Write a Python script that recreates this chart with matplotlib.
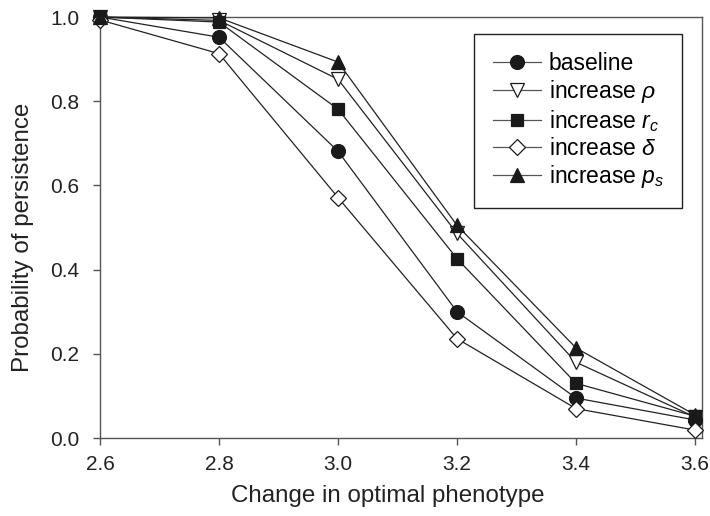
import matplotlib
matplotlib.use("Agg")
import matplotlib.pyplot as plt

plt.rcParams['font.family'] = ['Liberation Sans', 'DejaVu Sans']
plt.rcParams['mathtext.fontset'] = 'custom'
plt.rcParams['mathtext.rm'] = 'Liberation Sans'
plt.rcParams['mathtext.it'] = 'Liberation Sans:italic'

x = [2.6, 2.8, 3.0, 3.2, 3.4, 3.6]
baseline = [1.0, 0.952, 0.681, 0.300, 0.095, 0.043]
inc_rho = [1.0, 0.992, 0.852, 0.486, 0.180, 0.050]
inc_rc = [1.0, 0.988, 0.781, 0.426, 0.130, 0.052]
inc_delta = [0.993, 0.913, 0.571, 0.236, 0.070, 0.019]
inc_ps = [1.0, 0.998, 0.893, 0.505, 0.214, 0.055]

labels = ['baseline', r'increase $\rho$', r'increase $r_c$', r'increase $\delta$', r'increase $p_s$']
series = [baseline, inc_rho, inc_rc, inc_delta, inc_ps]
markers = ['o', 'v', 's', 'D', '^']
faces = ['#1a1a1a', 'white', '#1a1a1a', 'white', '#1a1a1a']
sizes = [10, 10, 9, 8.5, 10]

fig = plt.figure(figsize=(7.1, 5.16), dpi=100)
ax = fig.add_axes([0.141, 0.151, 0.848, 0.816])

for y, lab, m, fc, ms in zip(series, labels, markers, faces, sizes):
    ax.plot(x, y, color='#222222', lw=0.9, marker=m, markersize=ms,
            markerfacecolor=fc, markeredgecolor='#1a1a1a', markeredgewidth=0.9,
            label=lab, clip_on=False, zorder=3)

ax.set_xlim(2.6, 3.612)
ax.set_ylim(0.0, 1.0)
ax.set_xticks([2.6, 2.8, 3.0, 3.2, 3.4, 3.6])
ax.set_xticklabels(['2.6', '2.8', '3.0', '3.2', '3.4', '3.6'])
ax.set_yticks([0.0, 0.2, 0.4, 0.6, 0.8, 1.0])
ax.set_yticklabels(['0.0', '0.2', '0.4', '0.6', '0.8', '1.0'])
ax.tick_params(direction='out', length=5, width=1, colors='#555555',
               labelcolor='#222222', labelsize=15)
ax.tick_params(axis='x', pad=7)
ax.tick_params(axis='y', pad=10)
for s in ax.spines.values():
    s.set_color('#555555')
    s.set_linewidth(1.0)

ax.set_xlabel('Change in optimal phenotype', fontsize=17.4, color='#222222')
ax.set_ylabel('Probability of persistence', fontsize=17.4, color='#222222')
ax.xaxis.set_label_coords(0.478, -0.112)
ax.yaxis.set_label_coords(-0.11, 0.477)

leg = ax.legend(loc='upper right', bbox_to_anchor=(0.967, 0.960), borderaxespad=0,
                fontsize=16.5, handlelength=2.1, handletextpad=0.35, labelspacing=0.13,
                borderpad=0.8, fancybox=False, edgecolor='#222222', framealpha=1)
leg.get_frame().set_linewidth(1.0)
for h in leg.legend_handles:
    h.set_color('#555555')
    h.set_markeredgecolor('#1a1a1a')

fig.savefig('out.png', dpi=100)
